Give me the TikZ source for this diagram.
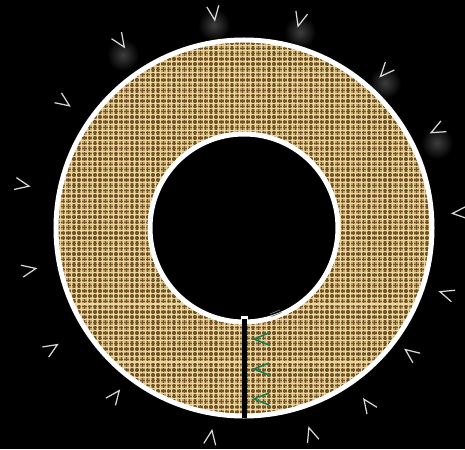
\documentclass[tikz,border=0pt]{standalone}
\usetikzlibrary{patterns.meta}
\definecolor{burlap}{RGB}{192,160,104}
\definecolor{burlapdark}{RGB}{112,84,42}
\definecolor{burlaplight}{RGB}{236,216,158}
\definecolor{hatchgreen}{RGB}{25,125,85}
\tikzset{
  chevron/.style={draw=white!85!black, line width=0.7pt},
  greenchev/.style={draw=hatchgreen, line width=0.8pt},
  glow/.style={shading=radial, inner color=white!24!black, outer color=black},
  rim/.style={white, line width=0.1cm},
}
\begin{document}
\begin{tikzpicture}
	\fill[black] (-4.88,-4.42) rectangle (4.42,4.56);
	\useasboundingbox (-4.88,-4.42) rectangle (4.42,4.56);
	\coordinate (O) at (0,0);

	% faint glows under the upper marks
	\foreach \x/\y in {-2.42/3.46, -0.6/4.06, 1.12/3.92, 2.82/2.9, 3.86/1.7}
		\fill[glow] (\x,\y) circle (0.32);

	% the burlap ring
	\fill[burlap, even odd rule] (O) circle (3.76) (O) circle (1.88);
	\fill[pattern={Lines[angle=0,distance=3pt,line width=0.8pt]}, pattern color=burlapdark, even odd rule] (O) circle (3.76) (O) circle (1.88);
	\fill[pattern={Lines[angle=90,distance=3pt,line width=0.8pt]}, pattern color=burlapdark, even odd rule] (O) circle (3.76) (O) circle (1.88);
	\fill[pattern={Lines[angle=0,distance=3pt,line width=0.6pt,yshift=1.5pt]}, pattern color=burlaplight, even odd rule] (O) circle (3.76) (O) circle (1.88);
	\fill[pattern={Lines[angle=90,distance=3pt,line width=0.5pt,xshift=1.5pt]}, pattern color=burlaplight, even odd rule] (O) circle (3.76) (O) circle (1.88);
	\draw[rim] (O) circle (3.76);
	\draw[rim] (O) circle (1.88);

	% the cut
	\draw[white, line width=0.14cm] (0,-1.75) -- (0,-1.86);
	\draw[black, line width=0.1cm] (0,-1.82) -- (0,-3.8);
	\foreach \y in {-2.22, -2.82, -3.42}
		\draw[greenchev] (0.5,\y+0.12) -- (0.2,\y) -- (0.5,\y-0.12);
	\draw[white!45!black, line width=0.4pt] (0.52,-1.72) -- (0.72,-1.64) (0.55,-1.77) -- (0.75,-1.69);

	% marks pointing inwards
	\foreach \a/\r in {4/216, 27/217, 48/211, 75/216, 98/217, 123.5/224, 145/220, 169/226,
		191/219, 212/227, 232.5/212, 261/212, 288/217, 305/216, 323/209, 342/213}
		\draw[chevron, rotate=\a] ({\r/50+0.14},0.12) -- ({\r/50-0.14},0) -- ({\r/50+0.14},-0.12);
\end{tikzpicture}
\end{document}
